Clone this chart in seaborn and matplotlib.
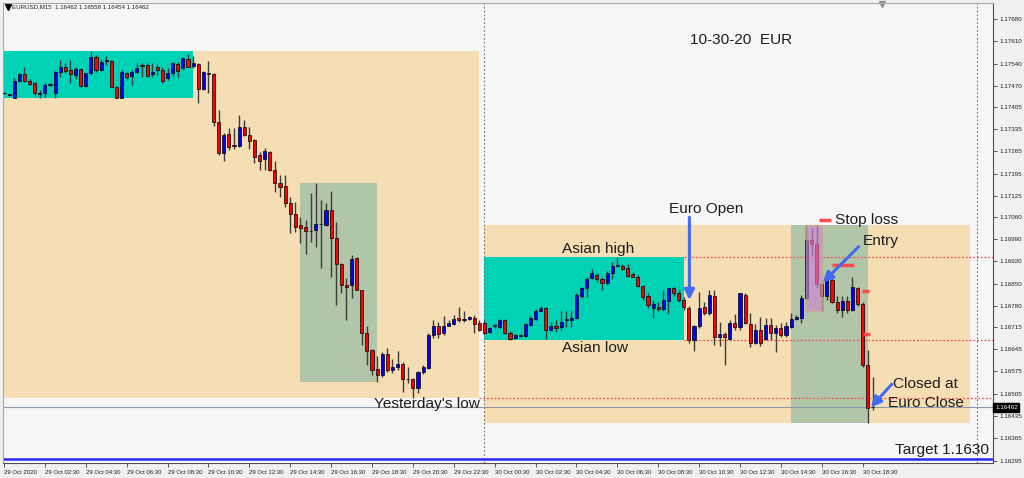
#!/usr/bin/env python3
"""EURUSD M15 session chart, 29-30 Oct 2020 -> out.png"""

import matplotlib

matplotlib.use("Agg")
import matplotlib.pyplot as plt
import matplotlib.transforms as mtransforms
import numpy as np
import pandas as pd
import seaborn as sns
from matplotlib.patches import Rectangle

# ---- candle data ----
opens = [
    1.17448, 1.17443, 1.17433, 1.17484, 1.17507, 1.17487, 1.17479, 1.17446, 1.17447, 1.17473,
    1.17447, 1.17515, 1.17530, 1.17520, 1.17504, 1.17522, 1.17470, 1.17512, 1.17562, 1.17520,
    1.17548, 1.17548, 1.17468, 1.17433, 1.17510, 1.17501, 1.17515, 1.17534, 1.17536, 1.17507,
    1.17530, 1.17520, 1.17494, 1.17510, 1.17538, 1.17525, 1.17554, 1.17533, 1.17539, 1.17460,
    1.17510, 1.17507, 1.17356, 1.17261, 1.17319, 1.17284, 1.17282, 1.17341, 1.17316, 1.17299,
    1.17252, 1.17241, 1.17264, 1.17205, 1.17165, 1.17157, 1.17104, 1.17069, 1.17034, 1.17029,
    1.17016, 1.17017, 1.17036, 1.17034, 1.17081, 1.16993, 1.16911, 1.16846, 1.16846, 1.16930,
    1.16831, 1.16695, 1.16643, 1.16583, 1.16564, 1.16629, 1.16580, 1.16590, 1.16599, 1.16552,
    1.16552, 1.16523, 1.16572, 1.16585, 1.16690, 1.16718, 1.16697, 1.16718, 1.16724, 1.16742,
    1.16735, 1.16739, 1.16744, 1.16727, 1.16727, 1.16700, 1.16716, 1.16714, 1.16735, 1.16697,
    1.16679, 1.16688, 1.16687, 1.16721, 1.16739, 1.16765, 1.16773, 1.16705, 1.16718, 1.16714,
    1.16736, 1.16735, 1.16742, 1.16810, 1.16836, 1.16867, 1.16878, 1.16864, 1.16852, 1.16883,
    1.16906, 1.16906, 1.16899, 1.16879, 1.16872, 1.16843, 1.16810, 1.16773, 1.16778, 1.16770,
    1.16797, 1.16836, 1.16822, 1.16799, 1.16775, 1.16674, 1.16716, 1.16776, 1.16758, 1.16813,
    1.16684, 1.16693, 1.16676, 1.16728, 1.16713, 1.16815, 1.16724, 1.16664, 1.16705, 1.16676,
    1.16721, 1.16695, 1.16711, 1.16690, 1.16714, 1.16739, 1.16742, 1.16805, 1.16987, 1.16975,
    1.16849, 1.16810, 1.16862, 1.16794, 1.16768, 1.16797, 1.16768, 1.16836, 1.16787, 1.16596,
    1.16462,
]
highs = [
    1.17451, 1.17445, 1.17495, 1.17511, 1.17530, 1.17492, 1.17483, 1.17458, 1.17479, 1.17479,
    1.17518, 1.17551, 1.17541, 1.17551, 1.17530, 1.17527, 1.17512, 1.17578, 1.17567, 1.17554,
    1.17564, 1.17551, 1.17470, 1.17520, 1.17515, 1.17520, 1.17541, 1.17541, 1.17541, 1.17541,
    1.17539, 1.17530, 1.17525, 1.17546, 1.17546, 1.17562, 1.17570, 1.17564, 1.17542, 1.17517,
    1.17549, 1.17511, 1.17395, 1.17323, 1.17337, 1.17337, 1.17379, 1.17363, 1.17341, 1.17304,
    1.17264, 1.17275, 1.17266, 1.17236, 1.17191, 1.17191, 1.17123, 1.17107, 1.17058, 1.17050,
    1.17134, 1.17165, 1.17113, 1.17104, 1.17141, 1.17045, 1.16915, 1.16867, 1.16940, 1.16935,
    1.16831, 1.16716, 1.16646, 1.16622, 1.16637, 1.16648, 1.16613, 1.16640, 1.16605, 1.16590,
    1.16555, 1.16575, 1.16596, 1.16695, 1.16737, 1.16731, 1.16749, 1.16735, 1.16752, 1.16778,
    1.16763, 1.16749, 1.16752, 1.16735, 1.16737, 1.16715, 1.16724, 1.16740, 1.16738, 1.16702,
    1.16693, 1.16693, 1.16728, 1.16749, 1.16770, 1.16780, 1.16777, 1.16731, 1.16737, 1.16766,
    1.16766, 1.16766, 1.16820, 1.16841, 1.16871, 1.16896, 1.16885, 1.16871, 1.16891, 1.16919,
    1.16935, 1.16912, 1.16912, 1.16888, 1.16878, 1.16846, 1.16822, 1.16799, 1.16794, 1.16831,
    1.16837, 1.16841, 1.16833, 1.16808, 1.16780, 1.16721, 1.16825, 1.16794, 1.16831, 1.16831,
    1.16731, 1.16700, 1.16737, 1.16755, 1.16822, 1.16820, 1.16758, 1.16724, 1.16745, 1.16742,
    1.16742, 1.16721, 1.16727, 1.16731, 1.16758, 1.16752, 1.16815, 1.17034, 1.17024, 1.17034,
    1.16862, 1.16888, 1.16867, 1.16810, 1.16810, 1.16810, 1.16872, 1.16841, 1.16794, 1.16643,
    1.16558,
]
lows = [
    1.17445, 1.17439, 1.17432, 1.17483, 1.17483, 1.17473, 1.17437, 1.17432, 1.17436, 1.17469,
    1.17432, 1.17498, 1.17510, 1.17480, 1.17491, 1.17468, 1.17468, 1.17504, 1.17515, 1.17518,
    1.17536, 1.17467, 1.17432, 1.17432, 1.17489, 1.17473, 1.17510, 1.17497, 1.17499, 1.17499,
    1.17504, 1.17480, 1.17489, 1.17499, 1.17499, 1.17520, 1.17530, 1.17525, 1.17416, 1.17458,
    1.17449, 1.17345, 1.17255, 1.17236, 1.17269, 1.17272, 1.17280, 1.17313, 1.17272, 1.17230,
    1.17205, 1.17205, 1.17204, 1.17139, 1.17123, 1.17092, 1.17010, 1.17013, 1.16977, 1.16943,
    1.16980, 1.16966, 1.16899, 1.17032, 1.16872, 1.16784, 1.16820, 1.16737, 1.16805, 1.16829,
    1.16658, 1.16596, 1.16564, 1.16543, 1.16557, 1.16572, 1.16570, 1.16580, 1.16512, 1.16538,
    1.16493, 1.16507, 1.16567, 1.16582, 1.16680, 1.16679, 1.16690, 1.16716, 1.16721, 1.16731,
    1.16731, 1.16737, 1.16697, 1.16703, 1.16693, 1.16696, 1.16712, 1.16711, 1.16693, 1.16674,
    1.16677, 1.16682, 1.16684, 1.16718, 1.16737, 1.16763, 1.16676, 1.16703, 1.16700, 1.16705,
    1.16714, 1.16714, 1.16739, 1.16805, 1.16808, 1.16864, 1.16854, 1.16829, 1.16846, 1.16864,
    1.16903, 1.16893, 1.16872, 1.16871, 1.16841, 1.16799, 1.16773, 1.16742, 1.16763, 1.16766,
    1.16755, 1.16810, 1.16794, 1.16768, 1.16664, 1.16640, 1.16711, 1.16752, 1.16752, 1.16658,
    1.16656, 1.16596, 1.16674, 1.16705, 1.16705, 1.16724, 1.16653, 1.16661, 1.16655, 1.16674,
    1.16674, 1.16637, 1.16684, 1.16684, 1.16711, 1.16735, 1.16727, 1.16799, 1.16940, 1.16836,
    1.16763, 1.16799, 1.16789, 1.16758, 1.16747, 1.16758, 1.16763, 1.16781, 1.16590, 1.16413,
    1.16454,
]
closes = [
    1.17447, 1.17442, 1.17484, 1.17507, 1.17484, 1.17475, 1.17447, 1.17448, 1.17473, 1.17476,
    1.17515, 1.17530, 1.17518, 1.17507, 1.17522, 1.17470, 1.17510, 1.17560, 1.17520, 1.17546,
    1.17550, 1.17468, 1.17433, 1.17513, 1.17499, 1.17515, 1.17525, 1.17536, 1.17502, 1.17515,
    1.17520, 1.17484, 1.17510, 1.17541, 1.17518, 1.17557, 1.17530, 1.17541, 1.17460, 1.17513,
    1.17508, 1.17356, 1.17259, 1.17316, 1.17280, 1.17282, 1.17342, 1.17316, 1.17298, 1.17248,
    1.17236, 1.17266, 1.17205, 1.17167, 1.17154, 1.17104, 1.17068, 1.17029, 1.17026, 1.17016,
    1.17015, 1.17037, 1.17038, 1.17081, 1.16993, 1.16911, 1.16846, 1.16841, 1.16927, 1.16831,
    1.16695, 1.16640, 1.16580, 1.16564, 1.16630, 1.16580, 1.16588, 1.16599, 1.16552, 1.16550,
    1.16523, 1.16572, 1.16588, 1.16690, 1.16718, 1.16693, 1.16718, 1.16727, 1.16739, 1.16737,
    1.16739, 1.16745, 1.16724, 1.16705, 1.16697, 1.16711, 1.16721, 1.16737, 1.16695, 1.16676,
    1.16690, 1.16687, 1.16724, 1.16742, 1.16765, 1.16775, 1.16705, 1.16718, 1.16711, 1.16731,
    1.16738, 1.16742, 1.16815, 1.16836, 1.16864, 1.16883, 1.16864, 1.16852, 1.16883, 1.16904,
    1.16908, 1.16897, 1.16875, 1.16872, 1.16843, 1.16808, 1.16784, 1.16786, 1.16770, 1.16799,
    1.16836, 1.16820, 1.16799, 1.16778, 1.16674, 1.16716, 1.16775, 1.16758, 1.16815, 1.16684,
    1.16693, 1.16682, 1.16727, 1.16713, 1.16820, 1.16728, 1.16664, 1.16705, 1.16664, 1.16721,
    1.16695, 1.16711, 1.16690, 1.16716, 1.16739, 1.16745, 1.16805, 1.16987, 1.16975, 1.16849,
    1.16812, 1.16862, 1.16794, 1.16768, 1.16797, 1.16768, 1.16839, 1.16787, 1.16596, 1.16460,
    1.16462,
]

price_ticks = [
    1.17680, 1.17610, 1.17540, 1.17470, 1.17405, 1.17335, 1.17265, 1.17195, 1.17125, 1.17060,
    1.16990, 1.16920, 1.16850, 1.16780, 1.16715, 1.16645, 1.16575, 1.16505, 1.16435, 1.16365,
    1.16295,
]
time_labels = [
    "29 Oct 2020", "29 Oct 02:30", "29 Oct 04:30", "29 Oct 06:30", "29 Oct 08:30",
    "29 Oct 10:30", "29 Oct 12:30", "29 Oct 14:30", "29 Oct 16:30", "29 Oct 18:30",
    "29 Oct 20:30", "29 Oct 22:30", "30 Oct 00:30", "30 Oct 02:30", "30 Oct 04:30",
    "30 Oct 06:30", "30 Oct 08:30", "30 Oct 10:30", "30 Oct 12:30", "30 Oct 14:30",
    "30 Oct 16:30", "30 Oct 18:30",
]
time_label_bars = list(range(0, 169, 8))

# session boxes: (first bar, last bar)
asian_29 = (0, 37)
day_29 = (0, 93)
us_29 = (58, 73)
asian_30 = (94, 133)
day_30 = (94, 189)
us_30 = (154, 169)
signal_bars = (157, 160)

target_price = 1.1630
bid_price = 1.16462
trail_prices = [1.17050, 1.16909, 1.16828, 1.16693]
trail_from = [159.5, 162.0, 167.9, 168.1]
trail_to = [161.8, 166.3, 169.3, 169.5]

TAN = "#F5DEB3"
CYAN = "#00D2B5"
SAGE = "#B1C5A8"
PLUM = "#D282D8"
RED = "#FF0000"
BLUE = "#0000FF"
ARROW = "#3F6CF2"
INK = "#1E1E1E"

sns.set_theme(style="white")
plt.rcParams["font.family"] = ["Liberation Sans", "DejaVu Sans"]

bars = pd.DataFrame({"open": opens, "high": highs, "low": lows, "close": closes})
bars["x"] = np.arange(len(bars))
bars["bottom"] = bars[["open", "close"]].min(axis=1)
bars["body"] = (bars["close"] - bars["open"]).abs().clip(lower=0.000012)
bars["color"] = np.where(
    bars["close"] > bars["open"], BLUE, np.where(bars["close"] < bars["open"], RED, "black")
)

fig = plt.figure(figsize=(10.24, 4.78), dpi=100, facecolor="#F0F0F0")
ax = fig.add_axes([3 / 1024, 15 / 478, 990 / 1024, 460 / 478])
ax.set_facecolor("#F6F6F6")
X_MAX = 193.5
ax.set_xlim(-0.2, X_MAX)
ax.set_ylim(1.16288, 1.17730)


def zone(span, color, z, **kw):
    i0, i1 = span
    seg = bars.iloc[i0:min(i1, len(bars) - 1) + 1]
    lo, hi = seg["low"].min(), seg["high"].max()
    ax.add_patch(Rectangle((i0, lo), i1 - i0, hi - lo, facecolor=color, zorder=z, **kw))
    return lo, hi


zone(day_29, TAN, 1, edgecolor="none")
zone(day_30, TAN, 1, edgecolor="none")
zone(asian_29, CYAN, 1.5, edgecolor="none")
asia_lo, asia_hi = zone(asian_30, CYAN, 1.5, edgecolor="none")
zone(us_29, SAGE, 1.5, edgecolor="none")
zone(us_30, SAGE, 1.5, edgecolor="none")
yday_low = bars.iloc[day_29[0]:day_29[1] + 1]["low"].min()

# levels
dots = (0, (1.5, 1.5))
ax.hlines([asia_hi, asia_lo], asian_30[1], X_MAX, colors="#F05050", linestyles=dots, lw=0.9, zorder=2)
ax.hlines(yday_low, day_29[1], X_MAX, colors="#F05050", linestyles=dots, lw=0.9, zorder=2)
ax.vlines([day_30[0], 190.4], 1.16288, 1.17730, colors="#707070", linestyles=(0, (1.5, 2)), lw=0.8, zorder=2)
ax.axhline(bid_price, color="#8A9AAA", lw=0.8, zorder=2)
ax.axhline(target_price, color="#2A2AFF", lw=1.8, zorder=2)
ax.hlines(trail_prices, trail_from, trail_to, colors="#FF4A4A", lw=2.5, zorder=5)

# candles
ax.vlines(bars["x"], bars["low"], bars["high"], colors="#3C3C3C", lw=1.0, zorder=3)
ax.bar(bars["x"], bars["body"], bottom=bars["bottom"], width=0.62,
       color=bars["color"], edgecolor="black", linewidth=0.5, zorder=4)

# signal candle highlight on top
zone(signal_bars, PLUM, 4.5, edgecolor="#C9B170", linewidth=1.0, alpha=0.62)

# labels
txt = dict(fontsize=11.1, color=INK, va="center", ha="left", zorder=7)
ax.text(134.2, 1.17614, "10-30-20  EUR", **txt)
ax.text(130.1, 1.17085, "Euro Open", **txt)
ax.text(162.6, 1.17050, "Stop loss", **txt)
ax.text(168.1, 1.16984, "Entry", **txt)
ax.text(109.2, 1.16959, "Asian high", **txt)
ax.text(109.2, 1.16648, "Asian low", **txt)
ax.text(72.4, 1.16473, "Yesterday's low", **txt)
ax.text(174.0, 1.16536, "Closed at", **txt)
ax.text(173.0, 1.16477, "Euro Close", **txt)
ax.text(174.4, 1.16329, "Target 1.1630", **txt)

arrow = dict(arrowstyle="-|>,head_length=0.5,head_width=0.25", color=ARROW, lw=2.2, shrinkA=0, shrinkB=0)
ax.annotate("", xy=(134.1, 1.16799), xytext=(134.1, 1.17058), arrowprops=arrow, zorder=7)
ax.annotate("", xy=(160.2, 1.16854), xytext=(167.2, 1.16966), arrowprops=arrow, zorder=7)
ax.annotate("", xy=(169.6, 1.16463), xytext=(173.7, 1.16535), arrowprops=arrow, zorder=7)

# header line
ax.plot([0.0052], [0.991], marker="v", ms=4, color="black", transform=ax.transAxes, clip_on=False)
ax.text(0.0095, 0.991, "EURUSD,M15  1.16462 1.16558 1.16454 1.16462", transform=ax.transAxes,
        fontsize=4.4, color="#202020", va="center", ha="left")
ax.plot([0.888], [0.998], marker="v", ms=5, color="#909090", transform=ax.transAxes, clip_on=False)

# axes
ax.yaxis.tick_right()
ax.set_yticks(price_ticks)
ax.set_yticklabels([f"{p:.5f}" for p in price_ticks], fontsize=4.5, color="#202020")
ax.set_xticks(time_label_bars)
ax.set_xticklabels(time_labels, fontsize=4.3, color="#202020", ha="left")
ax.tick_params(axis="y", which="both", right=True, length=3, width=0.6, color="#404040", pad=2)
ax.tick_params(axis="x", which="both", bottom=True, length=3, width=0.6, color="#404040", pad=2)
for side in ("left", "top"):
    ax.spines[side].set_color("#A8A8A8")
    ax.spines[side].set_linewidth(0.8)
for side in ("right", "bottom"):
    ax.spines[side].set_color("#505050")
    ax.spines[side].set_linewidth(0.8)
ax.grid(False)

# bid price tag on the scale
tag = mtransforms.blended_transform_factory(ax.transAxes, ax.transData)
ax.text(1.002, bid_price, "1.16462", transform=tag, fontsize=4.5, color="white", va="center",
        ha="left", bbox=dict(boxstyle="square,pad=0.25", fc="black", ec="black"), clip_on=False, zorder=8)

fig.savefig("out.png", dpi=100, facecolor=fig.get_facecolor())
